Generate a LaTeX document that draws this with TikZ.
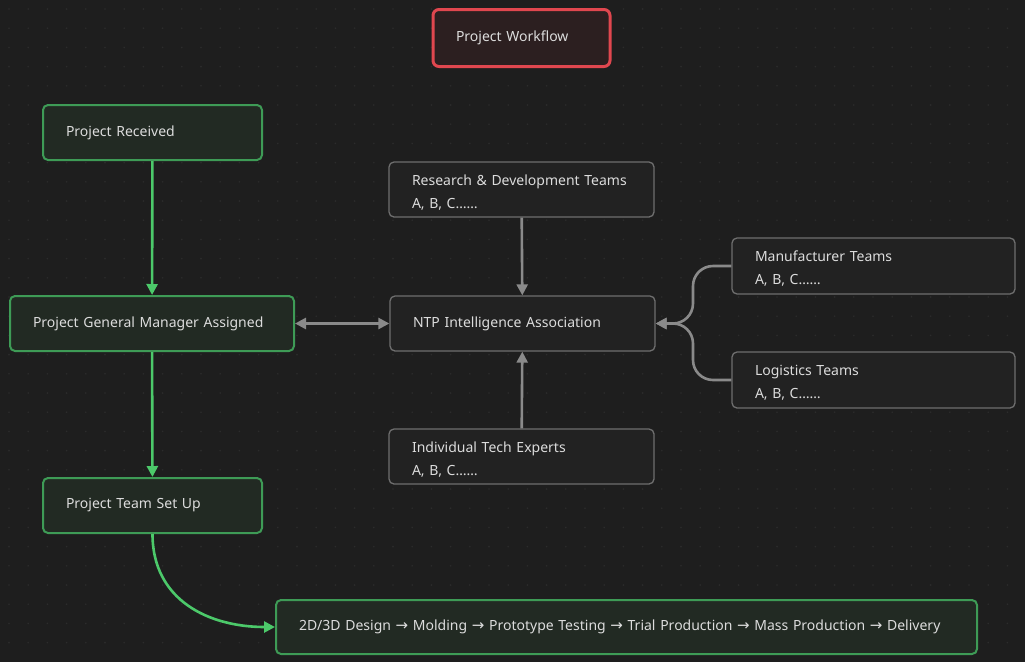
\documentclass[tikz,border=0pt]{standalone}
\usepackage{fontspec}
\setmainfont{Noto Sans}
\newfontfamily\symfont{DejaVu Sans}
\usepackage{tikz}
\usetikzlibrary{arrows.meta,calc}
\definecolor{bgdark}{HTML}{1E1E1E}
\definecolor{griddot}{HTML}{2C2C2C}
\definecolor{txtlight}{HTML}{DCDCDC}
\definecolor{greenline}{HTML}{4CC96A}
\definecolor{greenborder}{HTML}{3E9B56}
\definecolor{greenfill}{HTML}{222A23}
\definecolor{grayline}{HTML}{8A8A8A}
\definecolor{grayborder}{HTML}{6E6E6E}
\definecolor{grayfill}{HTML}{222222}
\definecolor{redborder}{HTML}{E0474F}
\definecolor{redfill}{HTML}{2C1F20}
\newcommand{\nxt}{{\symfont\fontsize{15}{14}\selectfont →}}
\newcommand{\topstrut}{\rule{0pt}{16.5pt}}
\tikzstyle{box_base} = [rectangle, rounded corners=5pt, inner xsep=23pt, inner ysep=0pt, align=left, text=txtlight, font=\fontsize{14}{23}\selectfont]
\tikzstyle{box_green} = [box_base, draw=greenborder, fill=greenfill, line width=2pt, minimum height=55pt]
\tikzstyle{box_gray} = [box_base, draw=grayborder, fill=grayfill, line width=1.3pt, minimum height=55pt]
\tikzstyle{box_title} = [box_base, draw=redborder, fill=redfill, line width=3pt, minimum height=57pt, rounded corners=6pt]
\tikzstyle{edge_green} = [draw=greenline, line width=2.6pt, -{Triangle[length=11pt,width=11pt]}]
\tikzstyle{edge_gray} = [draw=grayline, line width=2.6pt, -{Triangle[length=11pt,width=11pt]}]
\begin{document}
\begin{tikzpicture}[x=1pt, y=-1pt]
			\fill[bgdark] (0,0) rectangle (1025,662);
			\useasboundingbox (0,0) rectangle (1025,662);
			\foreach \i in {0,...,53} {
				\foreach \j in {0,...,33} {
					\fill[griddot] (9+\i*19.2, 9+\j*19.2) circle (0.9pt);
				}
			}
			% title
			\node (title) at (521.5,38) [box_title, text width=131pt] {Project Workflow};
			% green main line
			\node (recv) at (152.5,132.5) [box_green, text width=173pt] {Project Received};
			\node (pgm) at (152,323.5) [box_green, text width=238pt] {Project General Manager Assigned};
			\node (team) at (152.5,505.5) [box_green, text width=173pt] {Project Team Set Up};
			\node (flow) at (626.5,627) [box_green, text width=655pt, minimum height=54pt] {2D/3D Design \nxt{} Molding \nxt{} Prototype Testing \nxt{} Trial Production \nxt{} Mass Production \nxt{} Delivery};
			% association and teams
			\node (ntp) at (522.5,323.5) [box_gray, text width=219pt] {NTP Intelligence Association};
			\node (rnd) at (521.5,189.5) [box_gray, text width=219pt] {\topstrut Research \& Development Teams\\A, B, C\dots\dots};
			\node (expert) at (521.5,456.5) [box_gray, text width=219pt] {\topstrut Individual Tech Experts\\A, B, C\dots\dots};
			\node (manu) at (873.5,266) [box_gray, text width=237pt, minimum height=56pt] {\topstrut Manufacturer Teams\\A, B, C\dots\dots};
			\node (logi) at (873.5,380) [box_gray, text width=237pt, minimum height=56pt] {\topstrut Logistics Teams\\A, B, C\dots\dots};
			\coordinate (join) at (693,323.5);
			\draw[edge_green] (recv)--(pgm);
			\draw[edge_green] (pgm)--(team);
			\draw[edge_green] (team.south) to[out=-90, in=180, looseness=1.1] (flow.west);
			\draw[edge_gray, {Triangle[length=11pt,width=11pt]}-{Triangle[length=11pt,width=11pt]}] (pgm)--(ntp);
			\draw[edge_gray] (rnd)--(ntp);
			\draw[edge_gray] (expert)--(ntp);
			\draw[edge_gray, rounded corners=20pt] (manu.west) -| (join) -- (ntp.east);
			\draw[edge_gray, rounded corners=20pt] (logi.west) -| (join) -- (ntp.east);
		\end{tikzpicture}
\end{document}
